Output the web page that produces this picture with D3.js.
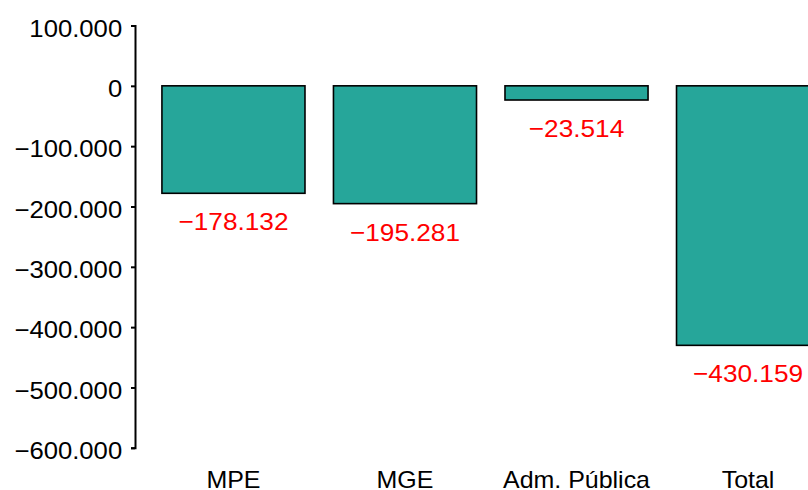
<!DOCTYPE html>
<html>
<head>
<meta charset="utf-8">
<script src="https://cdn.jsdelivr.net/npm/d3@7"></script>
<style>
  body { margin: 0; background: #fff; }
  svg { display: block; overflow: hidden; }
  text { font-family: "Liberation Sans", Arial, sans-serif; }
</style>
</head>
<body>
<div id="chart"></div>
<script>
// data
const categories = ['MPE', 'MGE', 'Adm. Pública', 'Total'];
const values = [-178132, -195281, -23514, -430159];
const yTicks = [100000, 0, -100000, -200000, -300000, -400000, -500000, -600000];

const W = 808, H = 490;
const stretch = 1.07;

const locale = d3.formatLocale({
    decimal: ',',
    thousands: '.',
    grouping: [3],
    currency: ['', ''],
    minus: '\u2212'
});
const fmt = locale.format(',d');

let data = categories.map((c, i) => ({ cat: c, value: values[i] }));

let svg = d3.select('#chart').append('svg')
    .attr('width', W)
    .attr('height', H);

let y = d3.scaleLinear()
    .domain([-600000, 100000])
    .range([447.8, 25.5]);

let x = d3.scaleBand()
    .domain(categories)
    .range([135, 846.5])
    .paddingInner(0.166)
    .paddingOuter(0.157);

// bars
svg.append('g').selectAll('rect')
    .data(data)
    .enter()
    .append('rect')
    .attr('x', d => x(d.cat))
    .attr('width', x.bandwidth())
    .attr('y', d => y(Math.max(0, d.value)))
    .attr('height', d => Math.abs(y(d.value) - y(0)))
    .attr('fill', '#26A69A')
    .attr('stroke', '#000')
    .attr('stroke-width', 1.6);

// value labels
svg.append('g').selectAll('text')
    .data(data)
    .enter()
    .append('text')
    .attr('transform', d => `translate(${x(d.cat) + x.bandwidth() / 2},${y(d.value) + 37}) scale(${stretch},1)`)
    .attr('text-anchor', 'middle')
    .attr('fill', '#FF0000')
    .style('font-size', '24.5px')
    .text(d => fmt(d.value));

// y axis
let yAxis = svg.append('g')
    .attr('transform', 'translate(135,0)')
    .call(d3.axisLeft(y).tickValues(yTicks).tickFormat(fmt).tickSize(4).tickPadding(8));

yAxis.select('.domain')
    .attr('stroke', '#000')
    .attr('stroke-width', 2);
yAxis.selectAll('.tick line')
    .attr('stroke', '#000')
    .attr('stroke-width', 2);
yAxis.selectAll('.tick text')
    .attr('fill', '#000')
    .attr('dy', '0.44em')
    .attr('transform', `scale(${stretch},1)`)
    .style('font-size', '24px');

// category labels
svg.append('g').selectAll('text')
    .data(data)
    .enter()
    .append('text')
    .attr('transform', d => `translate(${x(d.cat) + x.bandwidth() / 2},488) scale(1.04,1)`)
    .attr('text-anchor', 'middle')
    .attr('fill', '#000')
    .style('font-size', '24px')
    .text(d => d.cat);
</script>
</body>
</html>
